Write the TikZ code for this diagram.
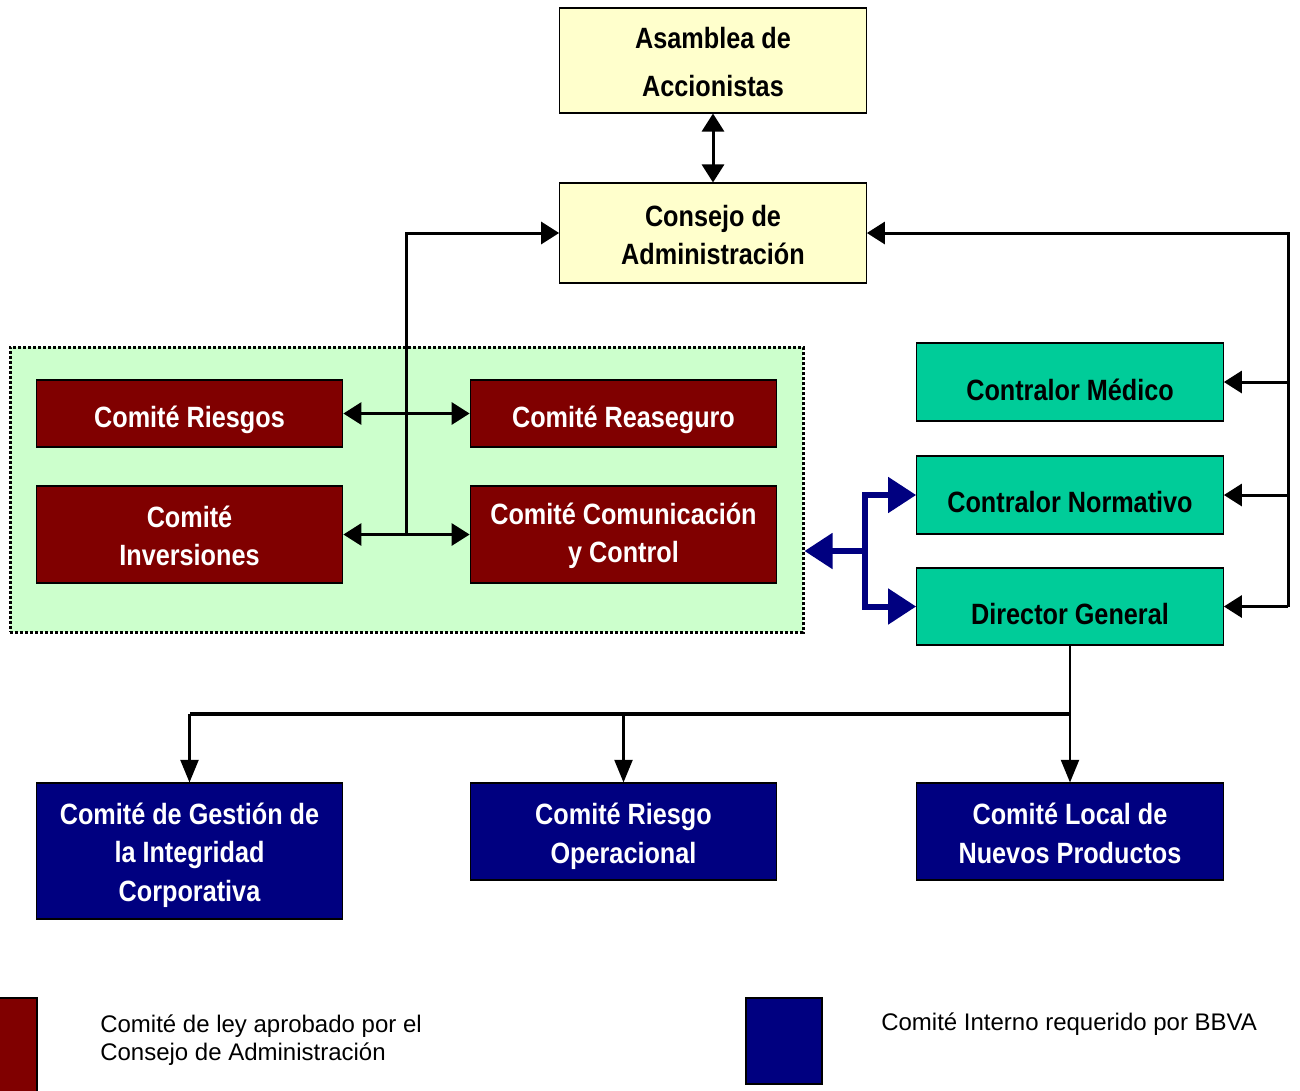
\documentclass[tikz,border=0pt]{standalone}
\usepackage{fontspec}
\setmainfont{Liberation Sans}
\newfontfamily\nb[FakeStretch=0.86]{Liberation Sans}
\usetikzlibrary{arrows.meta}
\definecolor{ybg}{HTML}{FFFFCC}
\definecolor{rbg}{HTML}{800000}
\definecolor{gbg}{HTML}{00CC99}
\definecolor{bbg}{HTML}{000080}
\definecolor{lg}{HTML}{CCFFCC}
\tikzset{
  box/.style={draw=black, line width=0.8pt, inner sep=0pt, minimum width=230pt},
  ybox/.style={box, fill=ybg},
  rbox/.style={box, fill=rbg},
  gbox/.style={box, fill=gbg},
  bbox/.style={box, fill=bbg},
  txt/.style={inner sep=0pt, align=center, font=\nb\bfseries\fontsize{22}{29}\selectfont},
  dtxt/.style={txt, text=black},
  wtxt/.style={txt, text=white},
  conn/.style={draw=black, line width=2.25pt},
  tipk/.tip={Triangle[length=13.5pt,width=16.5pt]},
  tipd/.tip={Triangle[length=17pt,width=13.5pt]},
  tipb/.tip={Triangle[length=21pt,width=26pt]},
  blueconn/.style={draw=bbg, line width=4.5pt},
  legtext/.style={font=\fontsize{18}{21}\selectfont, align=left, anchor=west, inner sep=0pt}
}
\begin{document}
\begin{tikzpicture}[x=0.75pt,y=-0.75pt]
\useasboundingbox (0,0) rectangle (1300,1090);
% group
\node[draw=black, fill=lg, line width=2.25pt, dash pattern=on 2.25pt off 1.5pt,
  minimum width=594.75pt, minimum height=213.75pt, inner sep=0pt] (group) at (406.5,489.5) {};
% top
\node[ybox, minimum height=78.75pt] (asam) at (713,60.5) {};
\node[dtxt, font=\nb\bfseries\fontsize{22}{36}\selectfont] (asam-t) at ([yshift=-1.5pt]asam.center) {Asamblea de\\Accionistas};
\node[ybox, minimum height=75pt] (consejo) at (713,233) {};
\node[dtxt] (consejo-t) at ([yshift=-1.5pt]consejo.center) {Consejo de\\Administración};
% red
\node[rbox, minimum height=50.25pt] (riesgos) at (189.5,413.5) {};
\node[wtxt] (riesgos-t) at ([yshift=-4.5pt]riesgos.center) {Comité Riesgos};
\node[rbox, minimum height=50.25pt] (reaseguro) at (623.5,413.5) {};
\node[wtxt] (reaseguro-t) at ([yshift=-4.5pt]reaseguro.center) {Comité Reaseguro};
\node[rbox, minimum height=72.75pt] (inversiones) at (189.5,534.5) {};
\node[wtxt] (inversiones-t) at ([yshift=-1pt]inversiones.center) {Comité\\Inversiones};
\node[rbox, minimum height=72.75pt] (comunic) at (623.5,534.5) {};
\node[wtxt] (comunic-t) at ([yshift=-1pt]comunic.center) {Comité Comunicación\\y Control};
% green
\node[gbox, minimum height=58.5pt] (medico) at (1070,382) {};
\node[dtxt] (medico-t) at ([yshift=-6pt]medico.center) {Contralor Médico};
\node[gbox, minimum height=58.5pt] (normativo) at (1070,495) {};
\node[dtxt] (normativo-t) at ([yshift=-5pt]normativo.center) {Contralor Normativo};
\node[gbox, minimum height=57.75pt] (director) at (1070,606.5) {};
\node[dtxt] (director-t) at ([yshift=-6pt]director.center) {Director General};
% blue
\node[bbox, minimum height=102pt] (gestion) at (189.5,851) {};
\node[wtxt] (gestion-t) at ([yshift=-3pt]gestion.center) {Comité de Gestión de\\la Integridad\\Corporativa};
\node[bbox, minimum height=72.75pt] (riesgoop) at (623.5,831.5) {};
\node[wtxt] (riesgoop-t) at ([yshift=-3.75pt]riesgoop.center) {Comité Riesgo\\Operacional};
\node[bbox, minimum height=72.75pt] (local) at (1070,831.5) {};
\node[wtxt] (local-t) at ([yshift=-1.5pt]local.center) {Comité Local de\\Nuevos Productos};
% connectors
\draw[conn, tipk-tipk] (asam.south) -- (consejo.north);
\coordinate (j1) at (406,534.5);
\draw[conn, -tipk] (j1) |- (consejo.west);
\draw[conn, tipk-tipk] (riesgos.east) -- (reaseguro.west);
\draw[conn, tipk-tipk] (inversiones.east) -- (comunic.west);
\coordinate (rb) at (1288,606.5);
\draw[conn, -tipk] (rb) |- (consejo.east);
\draw[conn, -tipk] (rb |- medico.east) -- (medico.east);
\draw[conn, -tipk] (rb |- normativo.east) -- (normativo.east);
\draw[conn, -tipk] (rb) -- (director.east);
% blue arrows
\coordinate (bj) at (865,551);
\draw[blueconn, -tipb] (bj) -- (group.east |- bj);
\draw[blueconn, -tipb] (bj) |- (normativo.west);
\draw[blueconn, -tipb] (bj) |- (director.west);
% bottom
\coordinate (bh) at (1070,714);
\draw[line width=1.8pt] (director.south) -- (bh);
\draw[line width=3pt] (bh) -- (gestion.north |- bh);
\draw[line width=1.8pt, -tipd] (bh) -- (local.north);
\draw[line width=1.8pt, -tipd] (gestion.north |- bh) -- (gestion.north);
\draw[line width=1.8pt, -tipd] (riesgoop.north |- bh) -- (riesgoop.north);
% legend
\draw[fill=rbg, line width=0.8pt] (-2,998) rectangle (37,1095);
\draw[fill=bbg, line width=0.8pt] (746,998) rectangle (822,1084);
\node[legtext] (leg1) at (100,1040) {Comité de ley aprobado por el\\Consejo de Administración};
\node[legtext] (leg2) at (881,1024) {Comité Interno requerido por BBVA};
\end{tikzpicture}
\end{document}
